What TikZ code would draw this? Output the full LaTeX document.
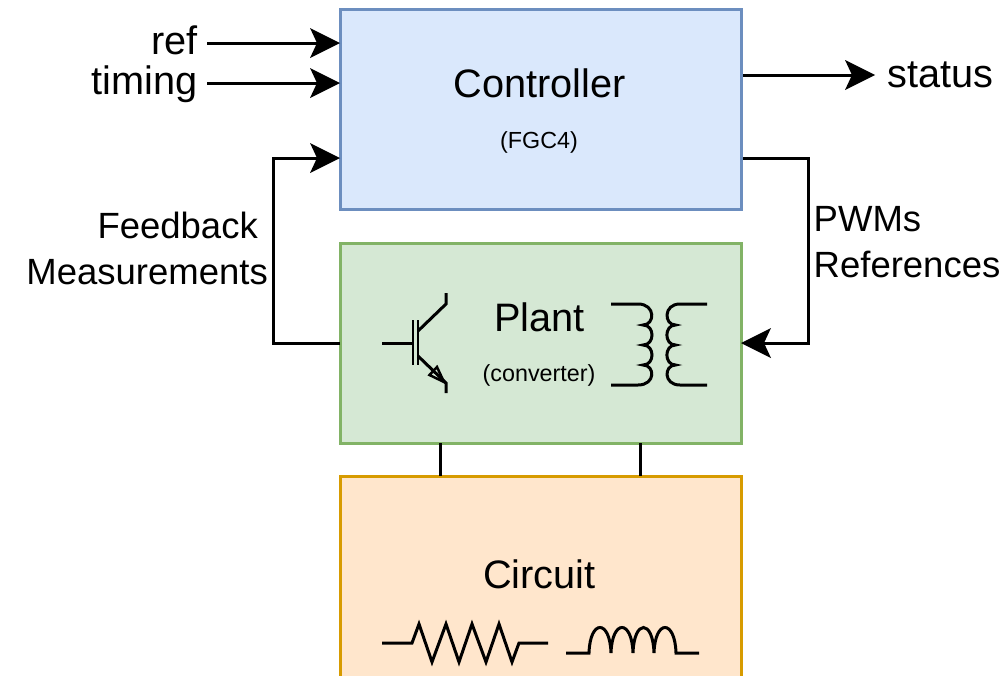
\documentclass[tikz,border=0pt]{standalone}
\usepackage{xcolor}
\usepackage{fontspec}
\setmainfont{Liberation Sans}
\usetikzlibrary{arrows.meta}
\definecolor{ctrlfill}{HTML}{DAE8FC}
\definecolor{ctrlline}{HTML}{6C8EBF}
\definecolor{plantfill}{HTML}{D5E8D4}
\definecolor{plantline}{HTML}{82B366}
\definecolor{circfill}{HTML}{FFE6CC}
\definecolor{circline}{HTML}{D79B00}
\tikzstyle{block} = [draw,line width=3pt,minimum width=401pt,outer sep=0pt,inner sep=0pt]
\tikzstyle{arrow} = [line width=3pt,-{Stealth[length=30pt,width=30pt,inset=7pt,line width=0pt]}]
\tikzstyle{wire} = [line width=3pt]
\tikzstyle{symbol} = [line width=3pt,line join=miter]
\tikzstyle{big} = [font=\fontsize{39.7}{40}\selectfont,inner sep=0pt]
\tikzstyle{mid} = [font=\fontsize{36.5}{36.5}\selectfont,inner sep=0pt]
\tikzstyle{small} = [font=\fontsize{23.3}{23.3}\selectfont,inner sep=0pt]
\begin{document}
\begin{tikzpicture}[x=1pt,y=-1pt]
            \path[use as bounding box,clip] (0,0) rectangle (1007,675);
            % blocks
            \node[block,fill=ctrlfill,draw=ctrlline,minimum height=200pt] (controller) at (540.5,109) {};
            \node[block,fill=plantfill,draw=plantline,minimum height=200pt] (plant) at (540.5,343) {};
            \node[block,fill=circfill,draw=circline,minimum height=204pt] (circuit) at (540.5,578) {};
            % labels
            \node[big,anchor=base] (controllerlabel) at (539.5,97) {Controller};
            \node[small,anchor=base] (fgclabel) at (539,148) {(FGC4)};
            \node[big,anchor=base] (plantlabel) at (539.5,331) {Plant};
            \node[small,anchor=base] (converterlabel) at (539,381) {(converter)};
            \node[big,anchor=base] (circuitlabel) at (539.5,588) {Circuit};
            \node[big,anchor=base east] (reflabel) at (198,54) {ref};
            \node[big,anchor=base east] (timinglabel) at (198,94) {timing};
            \node[big,anchor=base west] (statuslabel) at (887,87) {status};
            \node[mid,anchor=base east] (feedbacklabel) at (258,238) {Feedback};
            \node[mid,anchor=base east] (measlabel) at (268,284) {Measurements};
            \node[mid,anchor=base west] (pwmlabel) at (813.5,231) {PWMs};
            \node[mid,anchor=base west] (reflabeltwo) at (813.5,277) {References};
            % connector ends
            \coordinate (refstart) at (207,43);
            \coordinate (timingstart) at (207,83);
            \coordinate (statusstart) at (743,75);
            \coordinate (statusend) at (875,75);
            \coordinate (fbin) at (340,158);
            \coordinate (fbcorner) at (273,158);
            \coordinate (pwmout) at (743,158);
            \coordinate (pwmcorner) at (808,158);
            \coordinate (linkleft) at (440.5,443);
            \coordinate (linkright) at (640.5,443);
            % connectors
            \draw [arrow] (refstart) -- (refstart -| controller.west);
            \draw [arrow] (timingstart) -- (timingstart -| controller.west);
            \draw [arrow] (statusstart) -- (statusend);
            \draw [arrow] (plant.west) -| (fbcorner) -- (fbin);
            \draw [arrow] (pwmout) -- (pwmcorner) |- (plant.east);
            \draw [wire] (linkleft) -- (linkleft |- circuit.north);
            \draw [wire] (linkright) -- (linkright |- circuit.north);
            % transistor
            \draw [symbol] (382,343) -- (413,343);
            \draw [symbol,line width=2.6pt] (413,320) -- (413,365);
            \draw [symbol,line width=2.6pt] (418,320) -- (418,365);
            \draw [symbol] (418,331) -- (446,304) -- (446,293);
            \draw [symbol] (418,356) -- (446,383) -- (446,393);
            \draw [symbol,line width=2.5pt] (444,382) -- (429.5,375) -- (437,367) -- cycle;
            % transformer
            \draw [symbol] (611,304) -- (638,304) .. controls (656,304) and (655,325) .. (643,325)
                .. controls (655,325) and (655,345) .. (643,345)
                .. controls (655,345) and (655,365) .. (643,365)
                .. controls (655,365) and (656,385) .. (638,385) -- (611,385);
            \draw [symbol] (707,304) -- (680,304) .. controls (663,304) and (664,325) .. (675.5,325)
                .. controls (664,325) and (664,345) .. (675.5,345)
                .. controls (664,345) and (664,365) .. (675.5,365)
                .. controls (664,365) and (663,385) .. (680,385) -- (707,385);
            % resistor
            \draw [symbol] (382,643) -- (412,643) -- (419,624) -- (432,662) -- (446,624) -- (459,662)
                -- (472,624) -- (486,662) -- (499,624) -- (512,662) -- (519,643) -- (548,643);
            % inductor
            \draw [symbol] (566,653) -- (589,653) .. controls (590,619) and (610,619) .. (611,653)
                .. controls (612,619) and (632,619) .. (633,653)
                .. controls (634,619) and (653,619) .. (654,653)
                .. controls (655,619) and (675,619) .. (676,653) -- (699,653);
        \end{tikzpicture}
\end{document}
